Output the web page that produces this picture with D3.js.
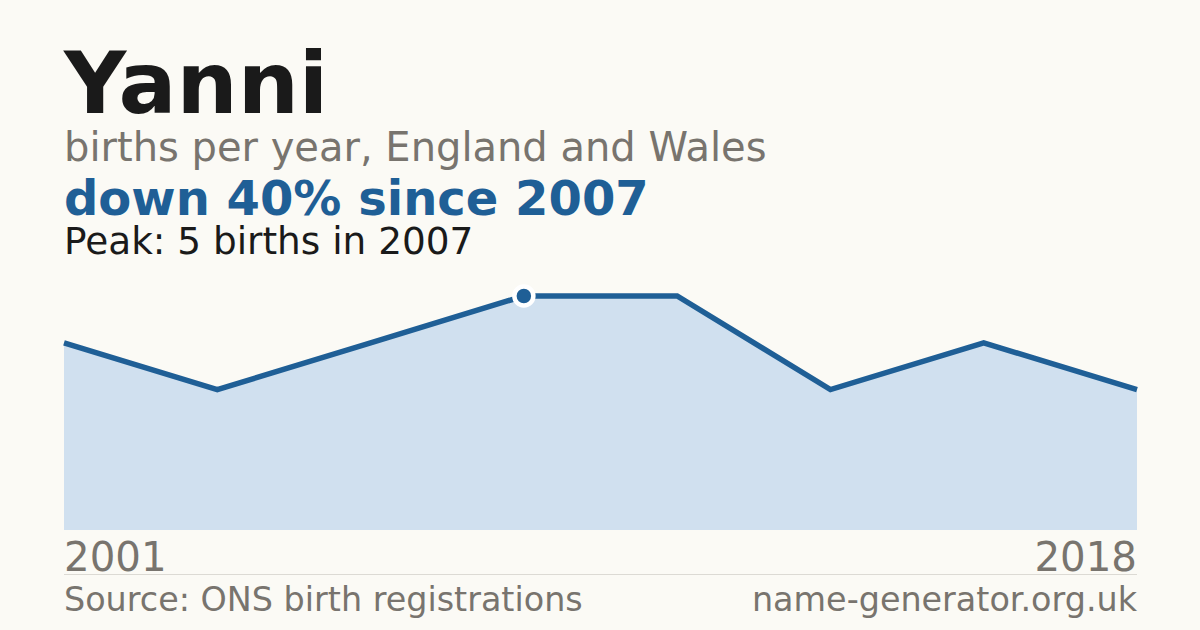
<!DOCTYPE html>
<html><head><meta charset="utf-8">
<script src="https://cdn.jsdelivr.net/npm/d3@7"></script>
<style>body{margin:0;background:#fbfaf5;}svg{display:block;font-family:"DejaVu Sans",sans-serif;}</style>
</head><body><svg id="c" width="1200" height="630"></svg>
<script>
const years = [2001, 2003, 2005, 2007, 2010, 2012, 2015, 2018];
const births = [4, 3, 4, 5, 5, 3, 4, 3];
const title = "Yanni";
const subtitle = "births per year, England and Wales";
const headline = "down 40% since 2007";
const peakNote = "Peak: 5 births in 2007";
const source = "Source: ONS birth registrations";
const site = "name-generator.org.uk";

const svg = d3.select("#c");
svg.append("rect").attr("width",1200).attr("height",630).attr("fill","#fbfaf5");
const x = d3.scalePoint().domain(years).range([64,1137]);
const y = d3.scaleLinear().domain([0,5]).range([530,296]);
const data = years.map((yr,i)=>({yr, v:births[i]}));

svg.append("path").datum(data)
  .attr("d", d3.area().x(d=>x(d.yr)).y0(y(0)).y1(d=>y(d.v)))
  .attr("fill","#d0e0ef");
svg.append("path").datum(data)
  .attr("d", d3.line().x(d=>x(d.yr)).y(d=>y(d.v)))
  .attr("fill","none").attr("stroke","#1f5f96").attr("stroke-width",5.5).attr("stroke-linejoin","miter");
const peakI = births.indexOf(d3.max(births));
svg.append("circle").attr("cx",x(years[peakI])).attr("cy",y(births[peakI])).attr("r",9.5)
  .attr("fill","#1f5f96").attr("stroke","#fff").attr("stroke-width",4.5);

svg.append("text").attr("x",64).attr("y",113).attr("font-size",86).attr("font-weight","bold").attr("fill","#1a1a1a").text(title);
svg.append("text").attr("x",64).attr("y",161).attr("font-size",40).attr("fill","#78746e").text(subtitle);
svg.append("text").attr("x",64).attr("y",215).attr("font-size",48).attr("font-weight","bold").attr("fill","#1f5f96").text(headline);
svg.append("text").attr("x",64).attr("y",254).attr("font-size",37.4).attr("fill","#1a1a1a").text(peakNote);

svg.append("text").attr("x",64).attr("y",571).attr("font-size",40.3).attr("fill","#78746e").text(years[0]);
svg.append("text").attr("x",1137).attr("y",571).attr("font-size",40.3).attr("fill","#78746e").attr("text-anchor","end").text(years[years.length-1]);
svg.append("line").attr("x1",64).attr("x2",1137).attr("y1",574.5).attr("y2",574.5).attr("stroke","#dcdad4").attr("stroke-width",1);
svg.append("text").attr("x",64).attr("y",611).attr("font-size",33.4).attr("fill","#78746e").text(source);
svg.append("text").attr("x",1137).attr("y",611).attr("font-size",33.4).attr("fill","#78746e").attr("text-anchor","end").text(site);
</script></body></html>
